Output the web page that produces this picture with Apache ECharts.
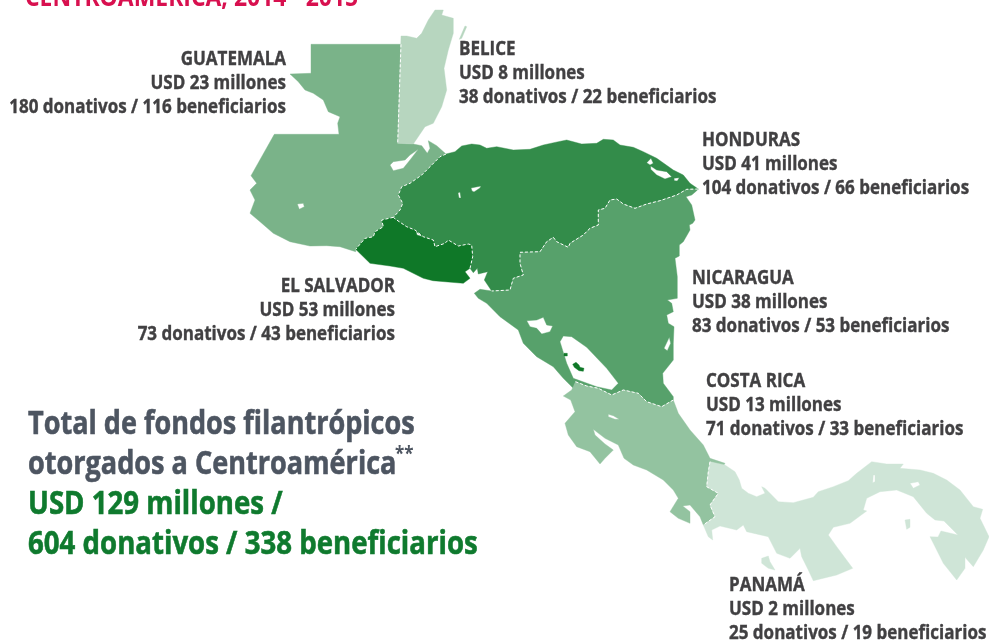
<!DOCTYPE html>
<html>
<head>
<meta charset="utf-8">
<style>html,body{margin:0;padding:0;background:#fff}#chart{width:989px;height:643px}</style>
<script src="https://cdn.jsdelivr.net/npm/echarts@6/dist/echarts.min.js"></script>
</head>
<body>
<div id="chart"></div>
<script>
// figures printed on the map
var countries = ['GUATEMALA', 'BELICE', 'HONDURAS', 'EL SALVADOR', 'NICARAGUA', 'COSTA RICA', 'PANAMÁ'];
var usdMillions = [23, 8, 41, 53, 38, 13, 2];
var donations = [180, 38, 104, 73, 83, 71, 25];
var recipients = [116, 22, 66, 43, 53, 33, 19];
var fills = ['#7ab389', '#b7d6bf', '#338c4a', '#0f7828', '#57a16b', '#93c3a0', '#cfe5d7'];

var titleText = 'CENTROAMÉRICA, 2014 - 2015';
var totalLines = ['Total de fondos filantrópicos', 'otorgados a Centroamérica'];
var totalFigures = ['USD 129 millones /', '604 donativos / 338 beneficiarios'];

// country outlines (map units, y down)
var borderGtHn = [[446,154],[440,156.7],[431.7,165],[421.7,175],[410,183.3],[401.7,186.7],[398.3,195],[402.7,203.3],[400,210],[393.3,217.3]];
var borderGtSv = [[393.3,217.3],[381.7,220],[383.3,226.7],[375,231.7],[373.3,236.7],[365,238.3],[355.7,249.3]];
var borderGtBz = [[401,44.3],[397.7,143.3],[413.3,144]];
var borderHnSv = [[470,268.3],[472.7,256.7],[471.7,245],[468.3,244],[458.3,246],[448.3,240],[445,243.3],[435,246.7],[433.3,240],[423.3,236.7],[415,230],[406.7,226.7],[396.7,220],[393.3,217.3]];
var borderHnNi = [[698.3,189],[686.7,189.3],[676.7,195],[660,200.7],[646.7,204],[635,208.3],[623.3,204],[616.7,199],[610,200],[605,208.3],[598.3,210],[598.3,225],[590,228.3],[583.3,235],[570,243.3],[568.3,247.3],[556.7,241.7],[553.3,237.3],[546.7,241.7],[540,251.7],[520,252.3],[520,263.3],[523.3,275],[513.3,278.3],[510,290],[491.7,291]];
var borderNiCr = [[575.5,381.7],[586.7,386],[598.3,388.3],[611.7,395],[623.3,390],[638.3,393.3],[646.7,401.7],[661.7,406.7],[673.3,400]];
var borderCrPa = [[710,461.7],[708.3,471.7],[706.7,486.7],[718.3,493.3],[710,505],[715,516.7],[703.3,525]];

var coastGt = [[355.7,251.7],[340,246.7],[326.7,245.7],[310,246],[290,241.7],[273.3,233.3],[260,221.7],[250,213.3],[255,200],[250,190],[256.7,183.3],[251,175.7],[274.3,134.3],[339,134.3],[337.7,123.3],[340,116.7],[328.3,111.7],[323.3,100],[313.3,93.3],[305,90],[298.3,81.7],[290,74],[311,73.3],[311,44.3]];
var coastGtNorth = [[421.7,145.7],[427.3,153.3],[430,148.3],[428.3,140.7],[436.7,145.7]];
var coastBz = [[401,36],[406.7,36],[416.7,38.3],[421.7,33.3],[428.3,20],[435,10],[443.3,10],[441.7,15],[453.3,18.3],[453.3,33.3],[448.3,50],[444,68.3],[446.7,90],[441.7,106.7],[433.3,123.3],[425,126.7]];
var coastSv = [[370,263.3],[390,266],[403.3,268.3],[423.3,278.3],[433,280.7],[463.3,283.3],[470,278.3],[465,271.7]];
var coastHn = [[455,151.7],[461.7,146],[471.7,144],[480,145],[486.7,148.3],[496.7,146.7],[513.3,150],[530,149.3],[543.3,145],[558.3,141.7],[566.7,140],[581.7,144],[596.7,143.3],[603.3,139.3],[613.3,140],[620,145],[633.3,147.3],[643.3,151.7],[656.7,158.3],[673.3,170],[683.3,175],[690,183.3]];
var coastHnGulf = [[484.3,280],[487.7,271.7],[478.3,274],[477.3,268.3],[473.3,272.7]];
var coastNiWest = [[480,289.3],[474.3,293.3],[478.3,298.3],[486.7,303.3],[500,316.7],[518.3,330],[523.3,343.3],[536.7,356.7],[553.3,366.7],[563.3,378.3],[573.3,388.3]];
var coastNiEast = [[673.3,396.7],[663.3,383.3],[662.7,373.3],[673.3,360],[673.3,343.3],[674,326.7],[668.3,323.3],[666.7,315],[673.3,311.7],[671.7,303.3],[667.3,300],[677.3,298.3],[677.3,276.7],[675,258.3],[679.3,256],[679.3,245],[683.3,241.7],[690,230],[689.3,225],[692.7,223.3],[695,220],[691.7,205],[686,196.7],[691.7,195],[696.7,190.7]];
var coastCrWest = [[571.7,390],[563.3,396],[570.7,400],[575,411.7],[565,423.3],[568.3,435],[576.7,446.7],[590,451.7],[600,464],[605,458.3],[613.3,450],[605,444],[595,435],[593.3,429.3],[605,438.3],[618.3,445],[624,458.3],[633.3,465],[646.7,470],[663.3,480],[673.3,490],[678.3,498.3],[670,511.7],[678.3,518.3],[690,523.3],[690,511.7],[682.7,506],[690,505],[700,516.7]];
var coastCrEast = [[678.3,413.3],[690,430],[703.3,445],[710,458.3],[725,463.3],[723.3,466]];
var coastPa = [[725,465],[735,471.7],[739.3,480],[741.7,488.3],[748.3,493.3],[756.7,496.7],[765,493.3],[761.7,486.7],[765,488.3],[771.7,495],[778.3,501.7],[793.3,502.7],[813.3,497.3],[818.3,491.7],[833.3,486.7],[848.3,480.7],[856.7,473.3],[871.7,461.7],[886.7,464],[903.3,464],[900,468.3],[920,470],[933.3,473.3],[946.7,480],[960,490],[973.3,506.7],[982.7,509.3],[980,518.3],[989,536.7],[983.3,550],[973.3,566.7],[965,557.3],[965,568.3],[956.7,580],[943.3,563.3],[933.3,543.3],[930,536.7],[938,537],[941,531],[958,535],[944,521],[935,520],[926.7,513.3],[913.3,496.7],[896.7,490],[880,491.7],[866.7,498.3],[863.3,510],[866.7,511],[850,523.3],[833.3,527.3],[828.3,535],[836.7,546.7],[852.7,568.3],[836.7,575],[813.3,580.7],[808.3,570],[801.7,556.7],[800,548.3],[793.3,555],[790,558.3],[776.7,553.3],[768.3,536.7],[746.7,531.7],[743.3,525],[736.7,530],[720,526],[711.7,530],[712.7,540],[708.3,536.7]];

var lakeIzabal = [[418.3,149.3],[410,155],[405,160],[393.3,161.7],[390,165],[393.3,170.7],[403.3,168.3],[410,160]];
var lakeAtitlan = [[297.3,204],[303.3,203.3],[304.3,206.7],[299.3,209.3]];
var lakeGuija = [[416,231.5],[421.7,234],[422,236.5],[417,235]];
var lakeYojoa = [[458,193],[460,192],[461,198],[459,198]];
var lakeHnCentre = [[471,188],[481,186],[480,188],[474,192],[472,191]];
var lagoonCaratascaA = [[646.7,162.7],[651,158.3],[653.3,163.3],[650,165]];
var lagoonCaratascaB = [[650.7,166],[656.7,170],[666.7,171.7],[671.7,176.7],[665,179],[656.7,175],[650.7,169.3]];
var lagoonCaratascaC = [[674,178.3],[679.3,177.7],[677.3,181],[674.3,180.7]];
var lakeManagua = [[526.7,320.7],[536.7,320],[543.3,317.3],[546.7,325],[552.7,326],[550,331.7],[541.7,334],[536.7,328.3],[530,326.7]];
var lakeNicaragua = [[560,341.7],[563.3,336],[571.7,336.7],[586.7,347.3],[606.7,368.3],[618.3,383.3],[611.7,390],[596.7,386.7],[573.3,378.3],[566.7,363.3]];
var lagoonBluefields = [[669.3,337.3],[670.7,343.3],[667.3,350.7],[664,348.3]];
var lakeArenal = [[608.3,414.3],[613.3,415.7],[619.3,419.3],[615,419.3],[608.3,416.7]];
var lakeGatun = [[873.3,475],[875,475],[875,481.7],[872.7,482.7]];
var lakeBayano = [[910,483.3],[918.3,481.7],[920,485],[913.3,488.3]];

var cayBz = [[465,26],[466.7,26.7],[461.7,38.3],[459.3,39.3]];
var islandCoiba = [[761.7,558.3],[768.3,556],[770,561.7],[775,570],[768.3,568.3],[761.7,563.3]];
var islandRey = [[905,520],[910,519.3],[910,527.3],[906.7,529.3]];
var islandOmetepeA = [[564,353.3],[567.3,353.3],[567.3,356],[564,356]];
var islandOmetepeB = [[572.7,364.3],[576,362.3],[579,365],[580,367.3],[584,368.3],[583.3,371.3],[579,370.7],[574.3,367.3]];
var ometepeColor = '#0f7828';

function reversed(line) {
  return line.slice().reverse();
}

function ring(line) {
  return line.map(function (p) { return [p[0], -p[1]]; });
}

function area(line) {
  var sum = 0;
  line.forEach(function (p, i) {
    var q = line[(i + 1) % line.length];
    sum += p[0] * q[1] - q[0] * p[1];
  });
  return sum;
}

// holes only cut out when they wind against the outer ring
function poly(outer, holes) {
  var sign = area(outer) > 0 ? 1 : -1;
  var cuts = (holes || []).map(function (h) {
    return area(h) * sign < 0 ? h : reversed(h);
  });
  return [ring(outer)].concat(cuts.map(ring));
}

var outlineGt = [].concat(coastGt, borderGtBz, coastGtNorth, borderGtHn, borderGtSv);
var outlineBz = [].concat(coastBz, reversed(borderGtBz).slice(0, 2));
var outlineHn = [[446,154]].concat(coastHn, borderHnNi, coastHnGulf, borderHnSv, reversed(borderGtHn));
var outlineSv = [].concat(borderGtSv, coastSv, borderHnSv);
var outlineNi = [].concat(borderHnNi, coastNiWest, borderNiCr, coastNiEast);
var outlineCr = [].concat(borderNiCr, coastCrEast, borderCrPa, reversed(coastCrWest));
var outlinePa = [].concat(coastPa, reversed(borderCrPa));

function feature(name, polygons) {
  return { type: 'Feature', properties: { name: name }, geometry: { type: 'MultiPolygon', coordinates: polygons } };
}

var mapRegions = [
  feature('GUATEMALA', [poly(outlineGt, [lakeIzabal, lakeAtitlan])]),
  feature('BELICE', [poly(outlineBz), poly(cayBz)]),
  feature('HONDURAS', [poly(outlineHn, [lakeYojoa, lakeHnCentre, lagoonCaratascaA, lagoonCaratascaB, lagoonCaratascaC])]),
  feature('EL SALVADOR', [poly(outlineSv, [lakeGuija])]),
  feature('NICARAGUA', [poly(outlineNi, [lakeManagua, lakeNicaragua, lagoonBluefields])]),
  feature('COSTA RICA', [poly(outlineCr, [lakeArenal])]),
  feature('PANAMÁ', [poly(outlinePa, [lakeGatun, lakeBayano]), poly(islandCoiba), poly(islandRey)]),
  feature('OMETEPE', [poly(islandOmetepeA), poly(islandOmetepeB)])
];

echarts.registerMap('centroamerica', { type: 'FeatureCollection', features: mapRegions });

// extent of the outlines, so the map lands where the picture has it
var allPoints = [].concat(outlineGt, outlineBz, outlineHn, outlineSv, outlineNi, outlineCr, outlinePa);
var xs = allPoints.map(function (p) { return p[0]; });
var ys = allPoints.map(function (p) { return p[1]; });
var minX = Math.min.apply(null, xs), maxX = Math.max.apply(null, xs);
var minY = Math.min.apply(null, ys), maxY = Math.max.apply(null, ys);

var labelAnchors = [
  { x: 286, y: 83.5, align: 'right' },
  { x: 459, y: 73.5, align: 'left' },
  { x: 702, y: 164.5, align: 'left' },
  { x: 395, y: 310.5, align: 'right' },
  { x: 692, y: 302.5, align: 'left' },
  { x: 706, y: 405, align: 'left' },
  { x: 729, y: 609, align: 'left' }
];

var labelFont = '700 20px "Open Sans"';
var bigFont = '700 33px "Open Sans"';
var narrow = 0.85;
var greyNarrow = 0.82;
var greenNarrow = 0.837;

var graphics = countries.map(function (name, i) {
  var a = labelAnchors[i];
  return {
    type: 'text', x: a.x, y: a.y, scaleX: narrow, silent: true,
    style: {
      text: name + '\nUSD ' + usdMillions[i] + ' millones\n' + donations[i] + ' donativos / ' + recipients[i] + ' beneficiarios',
      font: labelFont, lineHeight: 24, fill: '#414042', stroke: '#414042', lineWidth: 0.4, align: a.align, verticalAlign: 'middle'
    }
  };
});

// the main title is cut by the top of the picture
graphics.push({
  type: 'text', x: 25, y: -2, scaleX: narrow, silent: true,
  style: { text: titleText, font: '700 27px "Open Sans"', fill: '#d8104f', verticalAlign: 'middle' }
});
totalLines.forEach(function (line, i) {
  graphics.push({
    type: 'text', x: 28, y: 425 + i * 40, scaleX: greyNarrow, silent: true,
    style: { text: line, font: bigFont, fill: '#4d5561', stroke: '#4d5561', lineWidth: 0.6, verticalAlign: 'middle' }
  });
});
graphics.push({
  type: 'text', x: 395, y: 454, scaleX: narrow, silent: true,
  style: { text: '**', font: '700 20px "Open Sans"', fill: '#4d5561', verticalAlign: 'middle' }
});
totalFigures.forEach(function (line, i) {
  graphics.push({
    type: 'text', x: 28, y: 505 + i * 40, scaleX: greenNarrow, silent: true,
    style: { text: line, font: bigFont, fill: '#0f7a2e', stroke: '#0f7a2e', lineWidth: 0.6, verticalAlign: 'middle' }
  });
});

var regionStyles = countries.map(function (name, i) {
  return { name: name, itemStyle: { areaColor: fills[i], borderColor: fills[i] } };
});
regionStyles.push({ name: 'OMETEPE', itemStyle: { areaColor: ometepeColor, borderColor: ometepeColor } });

var borderLines = [borderGtBz.slice(0, 2), borderGtHn, borderGtSv, borderHnSv, borderHnNi, borderNiCr, borderCrPa];

var chart = echarts.init(document.getElementById('chart'), null, { renderer: 'canvas' });
chart.setOption({
  animation: false,
  backgroundColor: '#ffffff',
  geo: {
    map: 'centroamerica',
    aspectScale: 1,
    roam: false,
    silent: true,
    layoutCenter: [(minX + maxX) / 2, (minY + maxY) / 2],
    layoutSize: maxX - minX,
    label: { show: false },
    itemStyle: { borderWidth: 0.4 },
    regions: regionStyles
  },
  series: [{
    type: 'lines',
    coordinateSystem: 'geo',
    polyline: true,
    silent: true,
    lineStyle: { color: '#ffffff', width: 1, opacity: 1, type: [3, 2] },
    data: borderLines.map(function (line) { return { coords: ring(line) }; })
  }],
  graphic: graphics
});
</script>
</body>
</html>
